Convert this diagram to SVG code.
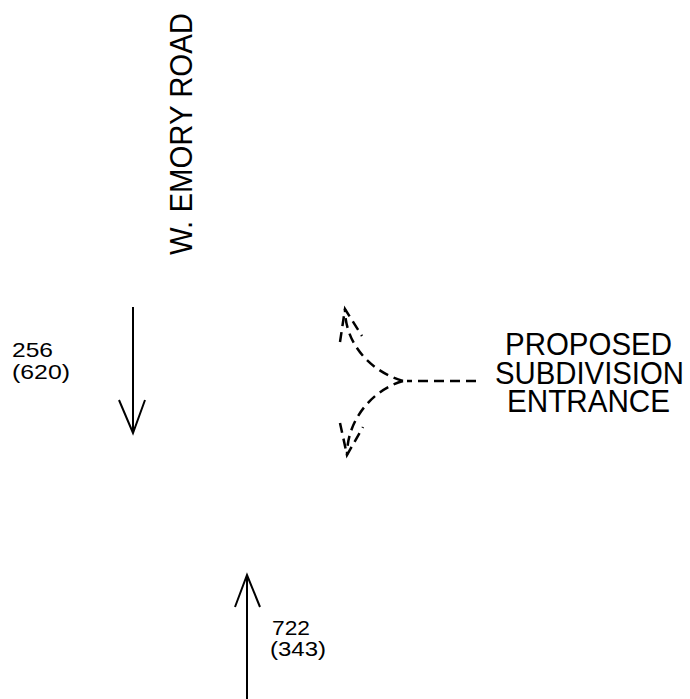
<svg xmlns="http://www.w3.org/2000/svg" width="690" height="699" viewBox="0 0 690 699">
<style>
.t{font-family:"Liberation Sans","DejaVu Sans",sans-serif;fill:#000}
.big{font-size:31px}
.sm{font-size:21px}
.solid{stroke:#000;stroke-width:2;fill:none}
.dash{stroke:#000;stroke-width:2.5;fill:none;stroke-dasharray:10 6}
</style>
<rect width="690" height="699" fill="#fff"/>
<g id="road-label">
<text class="t big" transform="translate(192,134) rotate(-90)" text-anchor="middle" textLength="242" lengthAdjust="spacingAndGlyphs">W. EMORY ROAD</text>
</g>
<g id="sb-volume">
<text class="t sm" x="12" y="357" textLength="41" lengthAdjust="spacingAndGlyphs">256</text>
<text class="t sm" x="12" y="379" textLength="58" lengthAdjust="spacingAndGlyphs">(620)</text>
</g>
<g id="nb-volume">
<text class="t sm" x="272" y="635" textLength="38" lengthAdjust="spacingAndGlyphs">722</text>
<text class="t sm" x="270" y="656" textLength="56" lengthAdjust="spacingAndGlyphs">(343)</text>
</g>
<g id="entrance-label">
<text class="t big" x="588.5" y="355" text-anchor="middle" textLength="167" lengthAdjust="spacingAndGlyphs">PROPOSED</text>
<text class="t big" x="589.5" y="384" text-anchor="middle" textLength="189" lengthAdjust="spacingAndGlyphs">SUBDIVISION</text>
<text class="t big" x="588.5" y="412" text-anchor="middle" textLength="163" lengthAdjust="spacingAndGlyphs">ENTRANCE</text>
</g>
<g id="connectors">
<path class="solid" d="M133,307 V433 M119,400 L133,433 L145,400"/>
<path class="solid" d="M247,699 V575 M235,607 L247,575 L260,607"/>
<path class="dash" d="M476,381 H407" stroke-dasharray="13 10 12 12 20"/>
<path class="dash" d="M403,381 C372,372 345,345 345,309"/>
<path class="dash" d="M403,381 C372,390 347,420 347,455"/>
<path class="dash" d="M340,342 L345,309 L362,336" stroke-dasharray="8 5"/>
<path class="dash" d="M340,423 L347,455 L363,427" stroke-dasharray="8 5"/>
</g>
</svg>
